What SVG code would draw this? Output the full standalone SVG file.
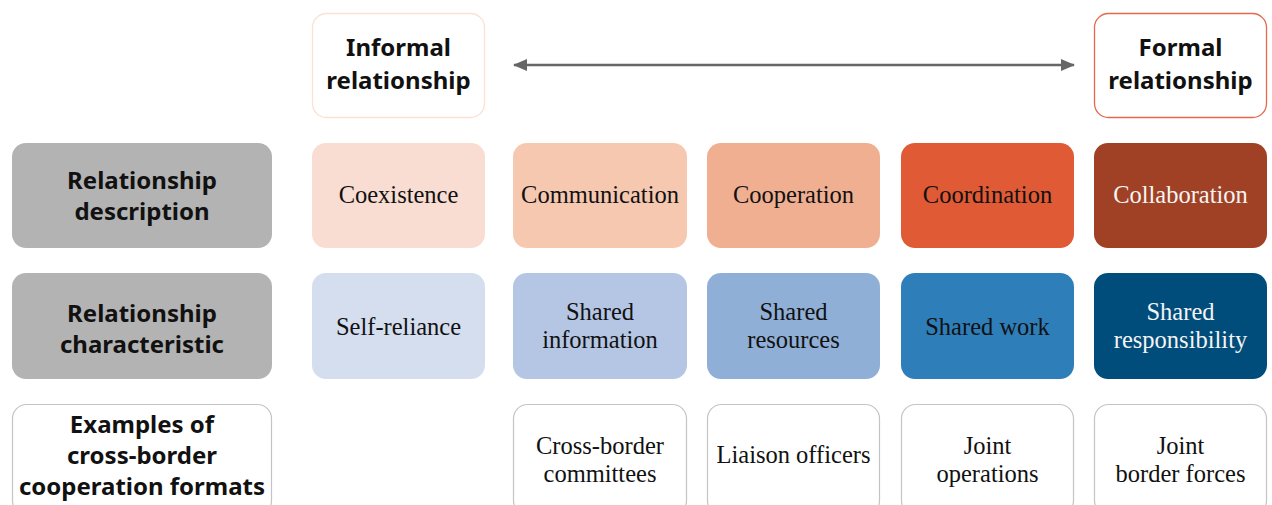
<svg xmlns="http://www.w3.org/2000/svg" width="1272" height="505" viewBox="0 0 1272 505">
<style>
.h{font-family:"Noto Sans","Open Sans",sans-serif;font-weight:bold;font-size:24px;fill:#111;text-anchor:middle}
.s{font-family:"Liberation Serif","Times New Roman",serif;font-size:24.5px;fill:#111;text-anchor:middle}
.w{fill:#f4f4f4}
.lab{fill:#b3b3b3}
.ex{fill:#fff;stroke:#c4c4c4;stroke-width:1.2}
</style>
<defs>
<marker id="ah" viewBox="0 0 14 12" refX="13" refY="6" markerUnits="userSpaceOnUse" markerWidth="14" markerHeight="12" orient="auto-start-reverse">
<path d="M0,0 L14,6 L0,12 z" fill="#666"/>
</marker>
</defs>
<g id="informal"><rect x="312.5" y="13.5" width="172" height="104" rx="14" fill="#fff" stroke="#fbe0d4" stroke-width="1.3"/>
<text class="h" x="398.5" y="56">Informal</text><text class="h" x="398.5" y="89">relationship</text></g>
<g id="formal"><rect x="1094.5" y="13.5" width="172" height="104" rx="14" fill="#fff" stroke="#e5684a" stroke-width="1.3"/>
<text class="h" x="1180.5" y="56">Formal</text><text class="h" x="1180.5" y="89">relationship</text></g>
<g id="connectors"><line x1="514" y1="65" x2="1074" y2="65" stroke="#666" stroke-width="2.5" marker-start="url(#ah)" marker-end="url(#ah)"/></g>

<g id="lab-desc"><rect class="lab" x="12" y="143" width="260" height="105" rx="14"/>
<text class="h" x="142" y="189">Relationship</text><text class="h" x="142" y="220">description</text></g>
<g id="lab-char"><rect class="lab" x="12" y="273" width="260" height="106" rx="14"/>
<text class="h" x="142" y="322">Relationship</text><text class="h" x="142" y="353">characteristic</text></g>
<g id="lab-ex"><rect class="ex" x="12.5" y="404.5" width="259" height="110" rx="14"/>
<text class="h" x="142" y="433">Examples of</text><text class="h" x="142" y="464">cross-border</text><text class="h" x="142" y="495">cooperation formats</text></g>

<g id="coexistence"><rect x="312" y="143" width="173" height="105" rx="14" fill="#f9ddd2"/><text class="s" x="398.5" y="203">Coexistence</text></g>
<g id="communication"><rect x="513" y="143" width="174" height="105" rx="14" fill="#f6c8b0"/><text class="s" x="600" y="203">Communication</text></g>
<g id="cooperation"><rect x="707" y="143" width="173" height="105" rx="14" fill="#f1af91"/><text class="s" x="793.5" y="203">Cooperation</text></g>
<g id="coordination"><rect x="901" y="143" width="173" height="105" rx="14" fill="#e05a35"/><text class="s" x="987.5" y="203">Coordination</text></g>
<g id="collaboration"><rect x="1094" y="143" width="173" height="105" rx="14" fill="#a04125"/><text class="s w" x="1180.5" y="203">Collaboration</text></g>

<g id="self-reliance"><rect x="312" y="273" width="173" height="106" rx="14" fill="#d4deef"/><text class="s" x="398.5" y="335">Self-reliance</text></g>
<g id="shared-information"><rect x="513" y="273" width="174" height="106" rx="14" fill="#b4c6e4"/><text class="s" x="600" y="320">Shared</text><text class="s" x="600" y="348">information</text></g>
<g id="shared-resources"><rect x="707" y="273" width="173" height="106" rx="14" fill="#8fafd7"/><text class="s" x="793.5" y="320">Shared</text><text class="s" x="793.5" y="348">resources</text></g>
<g id="shared-work"><rect x="901" y="273" width="173" height="106" rx="14" fill="#2e7eba"/><text class="s" x="987.5" y="335">Shared work</text></g>
<g id="shared-responsibility"><rect x="1094" y="273" width="173" height="106" rx="14" fill="#004c7a"/><text class="s w" x="1180.5" y="320">Shared</text><text class="s w" x="1180.5" y="348">responsibility</text></g>

<g id="cross-border-committees"><rect class="ex" x="513.5" y="404.5" width="173" height="110" rx="14"/><text class="s" x="600" y="454">Cross-border</text><text class="s" x="600" y="482">committees</text></g>
<g id="liaison-officers"><rect class="ex" x="707.5" y="404.5" width="172" height="110" rx="14"/><text class="s" x="793.5" y="463">Liaison officers</text></g>
<g id="joint-operations"><rect class="ex" x="901.5" y="404.5" width="172" height="110" rx="14"/><text class="s" x="987.5" y="454">Joint</text><text class="s" x="987.5" y="482">operations</text></g>
<g id="joint-border-forces"><rect class="ex" x="1094.5" y="404.5" width="172" height="110" rx="14"/><text class="s" x="1180.5" y="454">Joint</text><text class="s" x="1180.5" y="482">border forces</text></g>
</svg>
